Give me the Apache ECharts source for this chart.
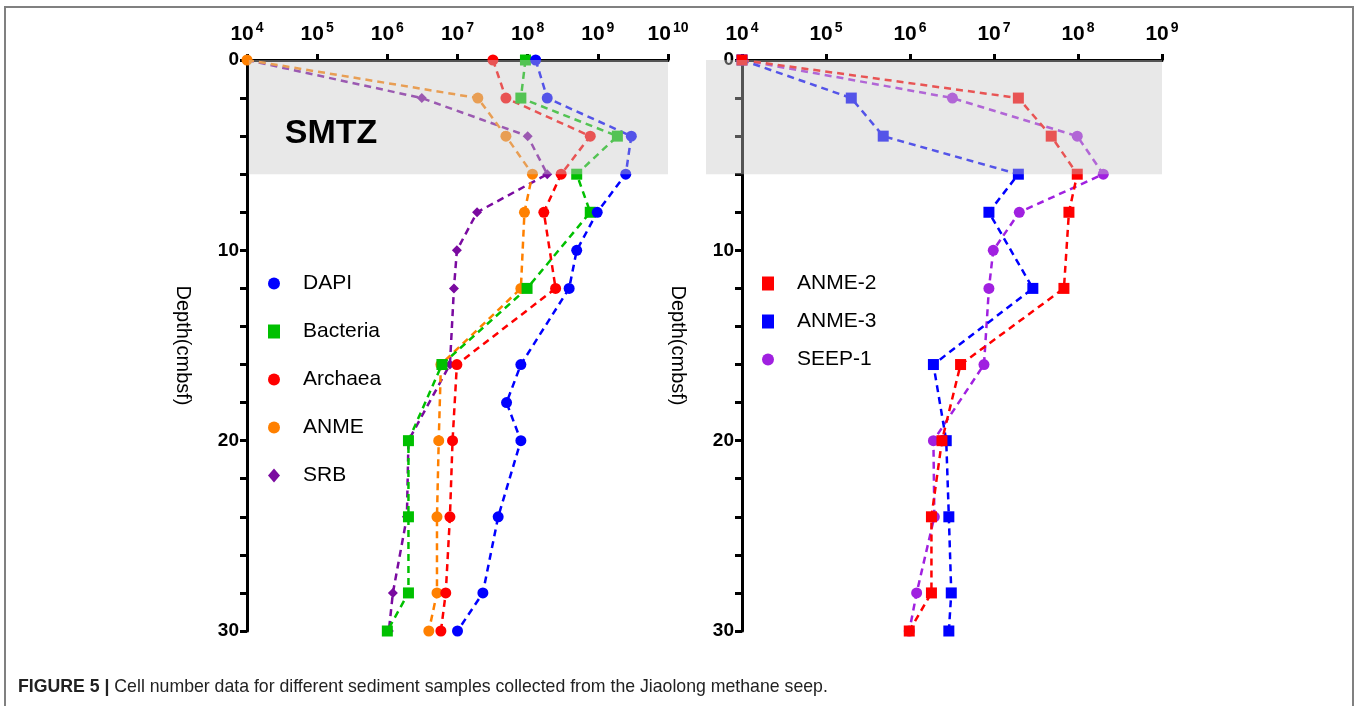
<!DOCTYPE html>
<html>
<head>
<meta charset="utf-8">
<script src="https://cdn.jsdelivr.net/npm/echarts@6/dist/echarts.min.js"></script>
<style>
  html, body { margin: 0; padding: 0; background: #fff; }
  #main { width: 1360px; height: 706px; }
</style>
</head>
<body>
<div id="main"></div>
<script>
// left panel: total counts
var dapiDepth = [0, 2, 4, 6, 8, 10, 12, 16, 18, 20, 24, 28, 30];
var dapi = [1.3e8, 1.9e8, 3e9, 2.5e9, 9.8e8, 5e8, 3.9e8, 8e7, 5e7, 8e7, 3.8e7, 2.3e7, 1.0e7];
var bacDepth = [0, 2, 4, 6, 8, 12, 16, 20, 24, 28, 30];
var bacteria = [9.3e7, 8e7, 1.9e9, 5e8, 7.8e8, 9.8e7, 6e6, 2e6, 2e6, 2e6, 1e6];
var arcDepth = [0, 2, 4, 6, 8, 12, 16, 20, 24, 28, 30];
var archaea = [3.2e7, 4.9e7, 7.8e8, 3e8, 1.7e8, 2.5e8, 9.8e6, 8.5e6, 7.8e6, 6.8e6, 5.8e6];
var anmeDepth = [0, 2, 4, 6, 8, 12, 16, 20, 24, 28, 30];
var anme = [1e4, 1.95e7, 4.9e7, 1.17e8, 9e7, 8e7, 5.8e6, 5.4e6, 5.1e6, 5.1e6, 3.9e6];
var srbDepth = [0, 2, 4, 6, 8, 10, 12, 16, 20, 24, 28, 30];
var srb = [1e4, 3.1e6, 1e8, 1.9e8, 1.9e7, 9.8e6, 8.9e6, 7.8e6, 2e6, 1.9e6, 1.2e6, 1.05e6];

// right panel: ANME groups
var anme2Depth = [0, 2, 4, 6, 8, 12, 16, 20, 24, 28, 30];
var anme2 = [1e4, 1.95e7, 4.8e7, 9.8e7, 7.8e7, 6.8e7, 4e6, 2.4e6, 1.8e6, 1.8e6, 9.8e5];
var anme3Depth = [0, 2, 4, 6, 8, 12, 16, 20, 24, 28, 30];
var anme3 = [1e4, 2e5, 4.8e5, 1.95e7, 8.7e6, 2.9e7, 1.9e6, 2.7e6, 2.9e6, 3.1e6, 2.9e6];
var seepDepth = [0, 2, 4, 6, 8, 10, 12, 16, 20, 24, 28, 30];
var seep1 = [1e4, 3.2e6, 9.8e7, 2e8, 2e7, 9.8e6, 8.7e6, 7.6e6, 1.9e6, 1.95e6, 1.2e6, 9.8e5];

var depthTicks = [0, 10, 20, 30];
var smtz = [0, 6];

var FONT = 'Arial, "Liberation Sans", Helvetica, sans-serif';
var BAND = 'rgba(200,200,200,0.42)';

function pairs(vals, depths) {
    return vals.map(function (v, i) { return [v, depths[i]]; });
}

function xAxisOf(idx, maxVal) {
    return {
        type: 'log', logBase: 10, gridIndex: idx, position: 'top',
        min: 1e4, max: maxVal,
        axisLine: { show: true, lineStyle: { color: '#000', width: 3 } },
        axisTick: { show: true, length: 6, lineStyle: { color: '#000', width: 3 } },
        splitLine: { show: false },
        axisLabel: {
            margin: 13,
            formatter: function (v) { return '{b|10}{s|' + Math.round(Math.log10(v)) + '}'; },
            rich: {
                b: { fontSize: 21, fontWeight: 'bold', color: '#000', fontFamily: FONT },
                s: { fontSize: 14, fontWeight: 'bold', color: '#000', fontFamily: FONT, verticalAlign: 'top', padding: [0, 0, 12, 2] }
            }
        }
    };
}

function yAxisOf(idx) {
    return {
        type: 'value', gridIndex: idx, inverse: true, min: 0, max: 30, interval: 2,
        name: 'Depth(cmbsf)', nameLocation: 'middle', nameRotate: -90, nameGap: 54,
        nameTextStyle: { fontSize: 20, color: '#000', fontFamily: FONT },
        axisLine: { show: true, lineStyle: { color: '#000', width: 3 } },
        axisTick: { show: true, length: 7, lineStyle: { color: '#000', width: 3 } },
        splitLine: { show: false },
        axisLabel: {
            margin: 8, fontSize: 19, fontWeight: 'bold', color: '#000', fontFamily: FONT,
            formatter: function (v) { return depthTicks.indexOf(v) >= 0 ? String(v) : ''; }
        }
    };
}

function lineSeries(name, vals, depths, color, symbol, size, idx) {
    return {
        name: name, type: 'line', xAxisIndex: idx, yAxisIndex: idx,
        data: pairs(vals, depths),
        symbol: symbol, symbolSize: size,
        itemStyle: { color: color },
        lineStyle: { color: color, width: 2.5, type: [7, 5] },
        z: 2, animation: false
    };
}

// grey SMTZ band, laid over the series so marks inside it look faded
function bandSeries(idx, x0, x1, label) {
    return {
        type: 'line', xAxisIndex: idx, yAxisIndex: idx, silent: true, z: 3,
        data: [[x1, 15]], symbol: 'none', lineStyle: { opacity: 0 },
        markArea: {
            silent: true, z: 6,
            itemStyle: { color: BAND },
            label: label ? {
                show: true, position: 'insideLeft', distance: 36, offset: [0, 17],
                fontSize: 34, fontWeight: 'bold', color: '#000', fontFamily: FONT
            } : { show: false },
            data: [[{ name: label || '', coord: [x0, smtz[0]] }, { coord: [x1, smtz[1]] }]]
        },
        animation: false
    };
}

var chart = echarts.init(document.getElementById('main'));

var option = {
    backgroundColor: '#fff',
    animation: false,
    grid: [
        { left: 247, top: 60, width: 421, height: 571 },
        { left: 742, top: 60, width: 420, height: 571 }
    ],
    xAxis: [xAxisOf(0, 1e10), xAxisOf(1, 1e9)],
    yAxis: [yAxisOf(0), yAxisOf(1)],
    legend: [
        {
            orient: 'vertical', left: 263, top: 268, itemGap: 27, itemWidth: 12, itemHeight: 14,
            textStyle: { fontSize: 21, color: '#000', fontFamily: FONT, padding: [0, 0, 0, 18] },
            data: [
                { name: 'DAPI', icon: 'circle' },
                { name: 'Bacteria', icon: 'rect' },
                { name: 'Archaea', icon: 'circle' },
                { name: 'ANME', icon: 'circle' },
                { name: 'SRB', icon: 'diamond' }
            ]
        },
        {
            orient: 'vertical', left: 757, top: 268, itemGap: 17, itemWidth: 12, itemHeight: 14,
            textStyle: { fontSize: 21, color: '#000', fontFamily: FONT, padding: [0, 0, 0, 18] },
            data: [
                { name: 'ANME-2', icon: 'rect' },
                { name: 'ANME-3', icon: 'rect' },
                { name: 'SEEP-1', icon: 'circle' }
            ]
        }
    ],
    series: [
        lineSeries('SRB', srb, srbDepth, '#7a0aa0', 'diamond', 10, 0),
        lineSeries('ANME', anme, anmeDepth, '#ff8000', 'circle', 11, 0),
        lineSeries('Archaea', archaea, arcDepth, '#ff0000', 'circle', 11, 0),
        lineSeries('Bacteria', bacteria, bacDepth, '#00c000', 'rect', 11, 0),
        lineSeries('DAPI', dapi, dapiDepth, '#0000ff', 'circle', 11, 0),
        lineSeries('SEEP-1', seep1, seepDepth, '#a020e0', 'circle', 11, 1),
        lineSeries('ANME-3', anme3, anme3Depth, '#0000ff', 'rect', 11, 1),
        lineSeries('ANME-2', anme2, anme2Depth, '#ff0000', 'rect', 11, 1),
        bandSeries(0, 1.06e4, 1e10, 'SMTZ'),
        bandSeries(1, 1e4, 1e9, null)
    ],
    graphic: [
        {
            id: 'frame', type: 'rect', silent: true, z: 0,
            shape: { x: 5, y: 7, width: 1348, height: 720 },
            style: { fill: null, stroke: '#808080', lineWidth: 2 }
        },
        {
            id: 'caption', type: 'text', left: 18, top: 678, silent: true,
            style: {
                text: '{b|FIGURE 5 |} Cell number data for different sediment samples collected from the Jiaolong methane seep.',
                font: '17.7px ' + FONT, fill: '#222',
                rich: { b: { fontWeight: 'bold', fontSize: 17.7, fontFamily: FONT, fill: '#222' } }
            }
        }
    ]
};

chart.setOption(option);

// on the right panel the band also runs left of the depth axis
var top6 = chart.convertToPixel({ xAxisIndex: 1, yAxisIndex: 1 }, [1e4, smtz[0]]);
var bot6 = chart.convertToPixel({ xAxisIndex: 1, yAxisIndex: 1 }, [1e4, smtz[1]]);
chart.setOption({
    graphic: [{
        id: 'bandExt', type: 'rect', silent: true, z: 10,
        shape: { x: top6[0] - 36, y: top6[1], width: 36, height: bot6[1] - top6[1] },
        style: { fill: BAND }
    }]
});
</script>
</body>
</html>
